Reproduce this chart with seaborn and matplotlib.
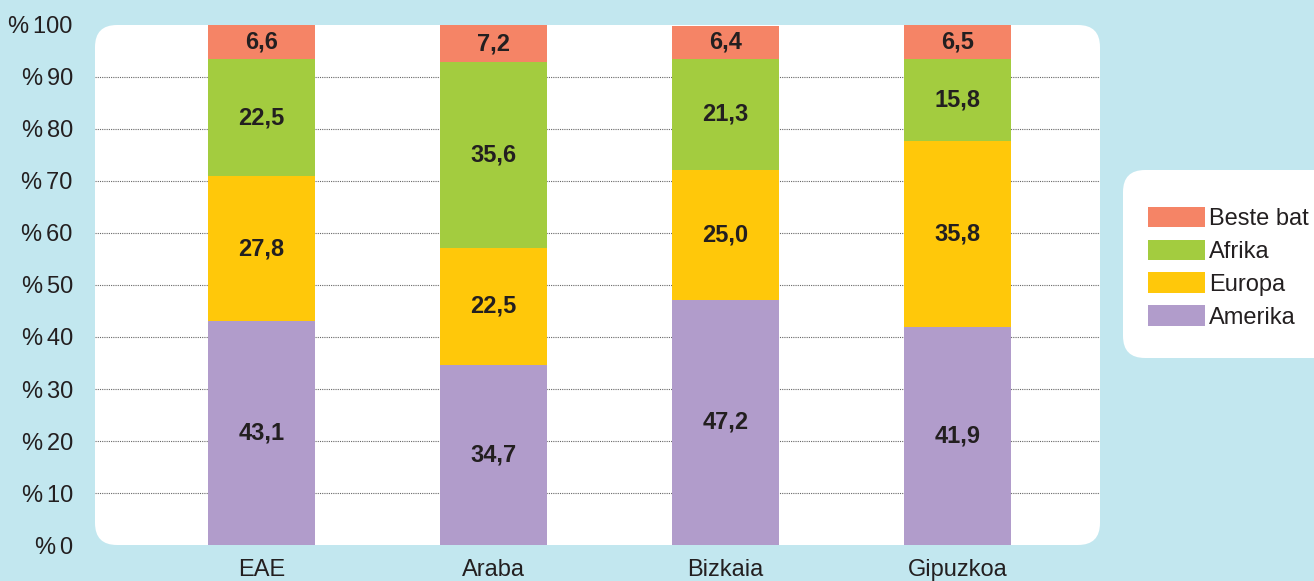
import matplotlib
matplotlib.use("Agg")
import matplotlib.pyplot as plt
from matplotlib.patches import FancyBboxPatch, Patch
import numpy as np
import pandas as pd
import seaborn as sns

# Datos (porcentajes por territorio)
regiones = ["EAE", "Araba", "Bizkaia", "Gipuzkoa"]
amerika = [43.1, 34.7, 47.2, 41.9]
europa = [27.8, 22.5, 25.0, 35.8]
afrika = [22.5, 35.6, 21.3, 15.8]
beste_bat = [6.6, 7.2, 6.4, 6.5]
y_ticks = list(range(0, 101, 10))

series = ["Amerika", "Europa", "Afrika", "Beste bat"]
colores = {"Amerika": "#b19ccb", "Europa": "#ffc80a",
           "Afrika": "#a3cc3f", "Beste bat": "#f58466"}

sns.set_theme(style="white")
plt.rcParams["font.family"] = ["Liberation Sans", "DejaVu Sans"]

df = pd.DataFrame({"region": regiones, "Amerika": amerika, "Europa": europa,
                   "Afrika": afrika, "Beste bat": beste_bat})
acum = df[series].cumsum(axis=1)

fondo = "#c2e7ef"
fig = plt.figure(figsize=(13.14, 5.81), dpi=100, facecolor=fondo)

# Caja blanca del área de gráfico
fig.patches.append(FancyBboxPatch((0.95, 0.36), 10.05, 5.20,
                                  boxstyle="round,pad=0,rounding_size=0.22",
                                  transform=fig.dpi_scale_trans, facecolor="white",
                                  edgecolor="none", zorder=-5))
# Caja blanca de la leyenda
fig.patches.append(FancyBboxPatch((11.23, 2.23), 2.5, 1.88,
                                  boxstyle="round,pad=0,rounding_size=0.22",
                                  transform=fig.dpi_scale_trans, facecolor="white",
                                  edgecolor="none", zorder=-5))

ax = fig.add_axes([95 / 1314, 36 / 581, 1005 / 1314, 520 / 581])
ax.patch.set_visible(False)

for y in y_ticks[1:-1]:
    ax.axhline(y, color="#666666", linestyle=(0, (1, 1)), linewidth=0.8, zorder=0)

# Barras apiladas: se dibujan los acumulados de arriba hacia abajo
for serie in reversed(series):
    sns.barplot(x=df["region"], y=acum[serie], color=colores[serie], width=0.46,
                saturation=1, linewidth=0, errorbar=None, ax=ax, zorder=2)

for i in range(len(regiones)):
    base = 0
    for serie in series:
        val = df.loc[i, serie]
        ax.text(i, base + val / 2, f"{val:.1f}".replace(".", ","), ha="center",
                va="center", fontsize=17, fontweight="bold", color="#231f20", zorder=3)
        base += val

ax.set_xlim(-0.718, 3.614)
ax.set_ylim(0, 100)
ax.set_yticks(y_ticks)
ax.set_yticklabels([f"%\u2006{t}" for t in y_ticks])
ax.set_xlabel("")
ax.set_ylabel("")
ax.tick_params(axis="y", length=0, pad=16, labelsize=17, labelcolor="#231f20")
ax.tick_params(axis="x", length=0, pad=10, labelsize=17, labelcolor="#231f20")
sns.despine(ax=ax, left=True, bottom=True)

handles = [Patch(facecolor=colores[s], edgecolor="none", label=s)
           for s in reversed(series)]
fig.legend(handles=handles, loc="upper left", bbox_to_anchor=(1148 / 1314, 374 / 581),
           frameon=False, fontsize=17, borderpad=0, borderaxespad=0,
           handlelength=2.4, handleheight=0.95, handletextpad=0.2, labelspacing=0.4,
           labelcolor="#231f20")

fig.savefig("out.png", dpi=100, facecolor=fondo)
